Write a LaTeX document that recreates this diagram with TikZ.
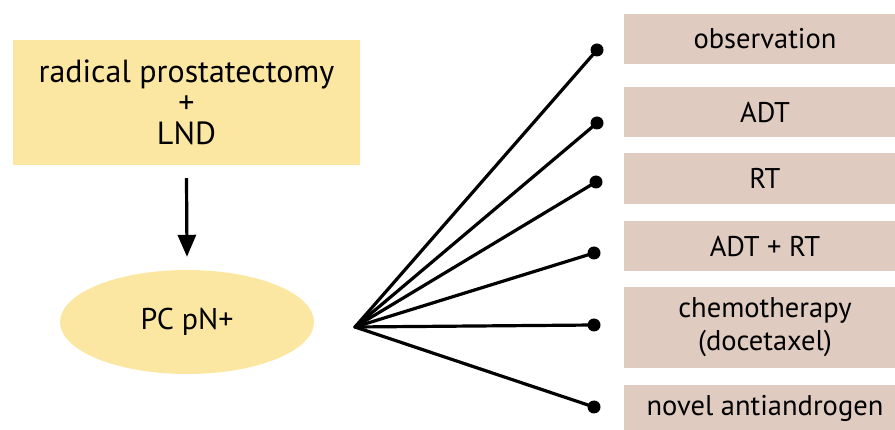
\documentclass[tikz,border=0pt]{standalone}
\usepackage{fontspec}
\setmainfont{PT Sans}
\usetikzlibrary{arrows.meta,shapes.geometric}
\definecolor{surgyellow}{HTML}{FBE6A2}
\definecolor{therapyrose}{HTML}{E0CBC0}

\begin{document}
\begin{tikzpicture}[x=1pt, y=-1pt,
        surgery/.style={
          fill=surgyellow,
          align=center,
          inner sep=0pt,
          font=\fontsize{32}{31}\selectfont
        },
        stage/.style={surgery, ellipse, font=\fontsize{30}{31}\selectfont},
        therapy/.style={
          fill=therapyrose,
          align=center,
          inner sep=0pt,
          minimum width=282pt,
          font=\fontsize{28.5}{33}\selectfont
        },
        endpoint/.style={circle, fill=black, inner sep=0pt, minimum size=13pt}
      ]
      \useasboundingbox (0,0) rectangle (895,430);

      \node[surgery, minimum width=347pt, minimum height=125pt] (rp) at (186.5,102.5)
        {radical prostatectomy\\+\\LND};
      \node[stage, minimum width=254pt, minimum height=104pt] (pn) at (187,322)
        {PC pN+};
      \coordinate (fan) at (355,327);

      \node[therapy, minimum height=50pt] (obs) at (765,39) {observation};
      \node[therapy, minimum height=50pt] (adt) at (765,112) {ADT};
      \node[therapy, minimum height=51pt] (rt) at (765,178.5) {RT};
      \node[therapy, minimum height=50pt] (adtrt) at (765,246) {ADT + RT};
      \node[therapy, minimum height=81pt] (chemo) at (765,327.5)
        {chemotherapy\\(docetaxel)};
      \node[therapy, minimum height=46pt] (novel) at (765,408) {novel antiandrogen};

      \node[endpoint] (d1) at (597,50) {};
      \node[endpoint] (d2) at (597,123) {};
      \node[endpoint] (d3) at (596,182) {};
      \node[endpoint] (d4) at (594,253) {};
      \node[endpoint] (d5) at (594,325) {};
      \node[endpoint] (d6) at (594,407) {};

      \draw[-{Triangle[width=18pt,length=22pt]}, line width=3.2pt]
        ([yshift=-13pt]rp.south) -- ([yshift=13pt]pn.north);
      \foreach \d in {d1,d2,d3,d4,d5,d6}
        \draw[line width=3.2pt, line cap=round] (fan) -- (\d.center);
    \end{tikzpicture}
\end{document}
